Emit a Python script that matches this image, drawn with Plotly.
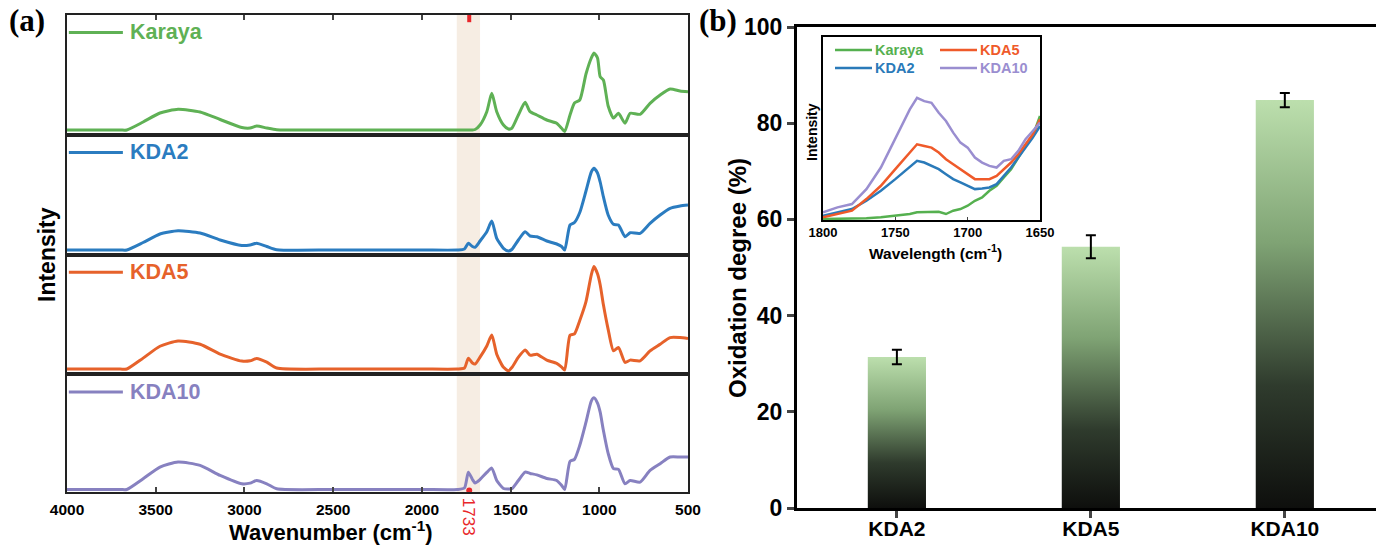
import plotly.graph_objects as go

# ---------------- (a) FTIR spectra ----------------
wavenumber = [4000, 3700, 3663, 3571, 3476, 3374, 3250, 3137, 3015, 2968, 2931, 2874, 2818, 2500, 2000,
              1800, 1760, 1738, 1715, 1700, 1672, 1634, 1606, 1578, 1540,
              1512, 1493, 1456, 1418, 1390, 1352, 1296, 1240, 1212, 1195,
              1165, 1140, 1110, 1075, 1045, 1030, 1010, 995, 977, 950,
              920, 892, 855, 826, 770, 714, 657, 601, 545, 500]

karaya = [0, 0, 0, 8, 17, 20.7, 18, 10.5, 2.5, 2.0, 4, 2.0, 0.3, 0, 0,
          0, 0, 0, 0, 0.5, 5, 18.3, 36.7, 18.3, 5,
          1, 1.7, 15, 27.7, 18.3, 15, 10, 6.7, 1.7, -1.5,
          15, 27, 30, 56, 72, 77, 72, 53.3, 50, 24,
          12, 16.7, 6.7, 16.7, 15.7, 26.7, 35, 41, 39, 38.3]

kda2 = [0, 0, 0, 7.5, 16, 19.3, 17, 10, 4.5, 5, 6.7, 3.5, 0.3, 0, 0,
        0, 1, 6.7, 3.5, 2.7, 9, 18.3, 29, 11.7, 1.7,
        -1, 0.5, 10, 18.3, 14, 13.3, 9, 6, 3.5, 0,
        25, 27.5, 37.5, 59, 78, 81.7, 77, 68, 53.3, 35,
        25.7, 25, 13.3, 17.3, 16.7, 26.7, 35, 41.7, 44, 45]

kda5 = [0, 0, 0, 11, 23, 28.3, 25, 15, 8, 8.3, 10.7, 7, 1, 0, 0,
        0, 1, 11, 6, 5, 12, 23.3, 34.3, 15, 1.7,
        -1.7, 1.5, 12, 19.3, 14, 15, 9, 5.7, 2, -1,
        34, 35.5, 49, 68, 95, 103.3, 96, 85, 65, 40,
        18.3, 21.7, 6.7, 9, 8.3, 18.3, 25, 31.7, 31.7, 30.7]

kda10 = [0, 0, 0, 10.7, 22.3, 27.3, 24, 14, 5.7, 6.3, 9, 5.7, 0.7, 0, 0,
         0, 1.5, 17.3, 10, 6.5, 10, 17, 21.3, 9, 1,
         0.5, 0.7, 9, 17.3, 16, 14.5, 11, 9, 4, 0,
         28, 30, 44, 67, 88, 91.3, 86, 77, 59, 36,
         20.7, 20, 5.7, 9, 7.3, 19, 25.7, 32.3, 32.3, 32.3]

series_names = ["Karaya", "KDA2", "KDA5", "KDA10"]
series_data = [karaya, kda2, kda5, kda10]
spec_colors = ["#5fb155", "#2b7cc0", "#e6622b", "#8781c0"]

x_ticks_a = [4000, 3500, 3000, 2500, 2000, 1500, 1000, 500]
carbonyl_peak = 1733
band_range = [1672, 1803]

# ---------------- (b) oxidation degree ----------------
samples = ["KDA2", "KDA5", "KDA10"]
oxidation = [31.4, 54.3, 84.8]
oxidation_err = [1.5, 2.4, 1.5]
y_ticks_b = [0, 20, 40, 60, 80, 100]

# ---------------- inset: carbonyl region ----------------
inset_wn = [1800, 1790, 1780, 1770, 1760, 1750, 1740, 1735, 1730, 1725, 1720, 1715, 1710,
            1705, 1700, 1695, 1690, 1685, 1680, 1675, 1670, 1665, 1660, 1655, 1650]
inset_karaya = [0, 0, 0, 0.2, 0.5, 1.0, 1.5, 2.0, 2.0, 2.1, 2.2, 1.5, 2.5,
                3.0, 4.0, 5.5, 6.5, 8.5, 10.0, 12.5, 15.0, 18.5, 22.0, 25.0, 31.0]
inset_kda2 = [1.0, 2.0, 3.0, 5.5, 8.5, 12.0, 15.5, 17.5, 17.0, 16.0, 15.0, 13.5, 12.0,
              11.0, 10.0, 9.0, 9.2, 9.5, 10.5, 13.0, 15.5, 18.5, 21.5, 24.5, 28.0]
inset_kda5 = [0.5, 1.5, 2.5, 6.0, 10.0, 15.0, 20.0, 22.5, 22.0, 21.5, 20.0, 18.0, 16.5,
              15.0, 13.5, 12.0, 12.0, 12.0, 13.0, 15.0, 17.0, 19.5, 22.5, 25.5, 30.0]
inset_kda10 = [2.0, 3.5, 4.5, 9.0, 15.5, 24.0, 33.0, 36.5, 35.5, 35.0, 32.0, 29.5, 26.0,
               23.0, 21.5, 18.5, 17.0, 16.0, 15.5, 17.5, 18.0, 20.5, 24.0, 26.5, 29.0]
inset_series = [inset_karaya, inset_kda2, inset_kda5, inset_kda10]
inset_colors = ["#55b04f", "#2a7ab9", "#ef5a2a", "#9a8ed0"]
inset_ticks = [1800, 1750, 1700, 1650]

FONT = "Arial, Liberation Sans, sans-serif"
SERIF = "Liberation Serif, Times New Roman, serif"
W, H = 1376, 546


def px_x(p):
    return p / W


def px_y(p):
    return 1 - p / H


def label(text, x, y, size, angle=0, color="black", bold=True, family=FONT):
    """Free text placed at pixel position (x, y), centred on that point."""
    return dict(text=text, xref="paper", yref="paper", x=px_x(x), y=px_y(y),
                xanchor="center", yanchor="middle", textangle=angle, showarrow=False,
                font=dict(size=size, color=color, family=family,
                          weight="bold" if bold else "normal"))


fig = go.Figure()

# panel (a) geometry (pixel rows of the four stacked frames)
a_left, a_right = px_x(67), px_x(688)
rows_px = [15, 135, 255, 374, 492]
y_ranges = [[-5, 115], [-5, 115], [-5, 115], [-2.5, 115]]

layout = dict(
    template="none",
    width=W, height=H, margin=dict(l=0, r=0, t=0, b=0, pad=0, autoexpand=False),
    paper_bgcolor="white", plot_bgcolor="rgba(0,0,0,0)",
    showlegend=False, font=dict(family=FONT, color="black"),
)

annotations = []
shapes = []

for i, (name, ys, col) in enumerate(zip(series_names, series_data, spec_colors)):
    k = i + 1
    xa = "x" if k == 1 else f"x{k}"
    ya = "y" if k == 1 else f"y{k}"
    fig.add_trace(go.Scatter(x=wavenumber, y=ys, mode="lines",
                             line=dict(color=col, width=3, shape="spline", smoothing=0.6),
                             xaxis=xa, yaxis=ya, hoverinfo="skip"))
    xkey = "xaxis" if k == 1 else f"xaxis{k}"
    ykey = "yaxis" if k == 1 else f"yaxis{k}"
    xax = dict(domain=[a_left, a_right], range=[4000, 500], anchor=ya, automargin=False,
               showline=True, mirror=True, linecolor="#222", linewidth=1.8,
               showgrid=False, zeroline=False, tickvals=x_ticks_a)
    if k == 1:
        xax.update(side="top", ticks="inside", ticklen=5, tickwidth=1.5,
                   showticklabels=False)
    elif k == 4:
        xax.update(ticks="inside", ticklen=5, tickwidth=1.5, showticklabels=True,
                   tickfont=dict(size=15.5, weight="bold", family=FONT),
                   ticklabelstandoff=2)
    else:
        xax.update(ticks="", showticklabels=False)
    layout[xkey] = xax
    layout[ykey] = dict(domain=[px_y(rows_px[k]), px_y(rows_px[i])], range=y_ranges[i],
                        anchor=xa, automargin=False, showline=True, mirror=True,
                        linecolor="#222", linewidth=1.8, showgrid=False, zeroline=False,
                        showticklabels=False, ticks="")
    # in-frame label: line sample + name
    label_y = 0.855 if k < 4 else 0.848
    shapes.append(dict(type="line", xref=f"{xa} domain", yref=f"{ya} domain",
                       x0=0.003, x1=0.09, y0=label_y, y1=label_y,
                       line=dict(color=col, width=3)))
    annotations.append(dict(text=name, xref=f"{xa} domain", yref=f"{ya} domain",
                            x=0.098, y=label_y, xanchor="left", yanchor="middle",
                            showarrow=False,
                            font=dict(size=21.5, color=col, family=FONT, weight="bold")))

# carbonyl band across all four frames
shapes.append(dict(type="rect", xref="x4", yref="paper",
                   x0=band_range[0], x1=band_range[1],
                   y0=px_y(rows_px[4]), y1=px_y(rows_px[0]),
                   fillcolor="rgba(236,214,192,0.45)", line=dict(width=0), layer="below"))
shapes.append(dict(type="line", xref="x", yref="y domain", x0=carbonyl_peak, x1=carbonyl_peak,
                   y0=0.94, y1=1.0, line=dict(color="#e8262a", width=4)))
fig.add_trace(go.Scatter(x=[carbonyl_peak], y=[-1], mode="markers",
                         marker=dict(color="#e8262a", size=6), cliponaxis=False,
                         xaxis="x4", yaxis="y4", hoverinfo="skip"))
annotations.append(dict(text="1733", xref="x4", yref="paper", x=carbonyl_peak,
                        y=px_y(517), xanchor="center", yanchor="middle", textangle=90,
                        showarrow=False,
                        font=dict(size=17, color="#e8262a", family=FONT)))

annotations.append(label("Wavenumber (cm<sup>-1</sup>)", 331, 531, 22))
annotations.append(label("Intensity", 47, 255, 23, angle=-90))
annotations.append(label("(a)", 27, 21, 31, family=SERIF))
annotations.append(label("(b)", 718, 21, 31, family=SERIF))

# ---------------- panel (b) bars ----------------
bar_half = 0.15
bar_scale = [[0.0, "#0e0f0d"], [0.3, "#2f3b2d"], [0.65, "#7fa374"], [1.0, "#bcdfad"]]
for i, v in enumerate(oxidation):
    fig.add_trace(go.Scatter(x=[i - bar_half, i + bar_half, i + bar_half, i - bar_half, i - bar_half],
                             y=[0, 0, v, v, 0], mode="lines", fill="toself",
                             line=dict(width=0, color="rgba(0,0,0,0)"),
                             fillgradient=dict(type="vertical", colorscale=bar_scale),
                             xaxis="x5", yaxis="y5", hoverinfo="skip"))
fig.add_trace(go.Scatter(x=list(range(len(samples))), y=oxidation, mode="markers",
                         marker=dict(size=1, opacity=0),
                         error_y=dict(type="data", array=oxidation_err, color="black",
                                      thickness=2, width=5),
                         xaxis="x5", yaxis="y5", hoverinfo="skip"))

b_left = px_x(797)
layout["xaxis5"] = dict(domain=[b_left, 1.0], range=[-0.515, 2.47], anchor="y5",
                        automargin=False, tickvals=list(range(len(samples))), ticktext=samples,
                        showline=True, mirror=True, linecolor="black", linewidth=3,
                        ticks="outside", ticklen=7, tickwidth=2.5, showgrid=False,
                        zeroline=False, ticklabelstandoff=-7,
                        tickfont=dict(size=21, family=FONT, weight="bold"))
layout["yaxis5"] = dict(domain=[px_y(508), px_y(27)], range=[0, 100], anchor="x5",
                        automargin=False, tickvals=y_ticks_b, showline=True, linecolor="black",
                        linewidth=3, ticks="outside", ticklen=7, tickwidth=2.5, showgrid=False,
                        zeroline=False, ticklabelstandoff=0,
                        tickfont=dict(size=23, family=FONT, weight="bold"))
annotations.append(label("Oxidation degree (%)", 737, 278, 24, angle=-90))

# ---------------- inset ----------------
for ys, col in zip(inset_series, inset_colors):
    fig.add_trace(go.Scatter(x=inset_wn, y=ys, mode="lines",
                             line=dict(color=col, width=2.5),
                             xaxis="x6", yaxis="y6", hoverinfo="skip"))
layout["xaxis6"] = dict(domain=[px_x(823), px_x(1040)], range=[1800, 1650], anchor="y6",
                        automargin=False, tickvals=inset_ticks, showline=True, mirror=True,
                        linecolor="black", linewidth=1.5, ticks="inside", ticklen=3,
                        showgrid=False, zeroline=False,
                        tickfont=dict(size=13, family=FONT, weight="bold"))
layout["yaxis6"] = dict(domain=[px_y(220), px_y(37)], range=[-0.3, 54.8], anchor="x6",
                        automargin=False, showline=True, mirror=True, linecolor="black",
                        linewidth=1.5, showticklabels=False, ticks="", showgrid=False,
                        zeroline=False)
annotations.append(label("Wavelength (cm<sup>-1</sup>)", 935, 252, 15.5))
annotations.append(label("Intensity", 812, 132, 14, angle=-90))

# inset legend, two columns
legend_cells = [("Karaya", inset_colors[0], 835, 50), ("KDA5", inset_colors[2], 940, 50),
                ("KDA2", inset_colors[1], 835, 68), ("KDA10", inset_colors[3], 940, 68)]
for name, col, lx, ly in legend_cells:
    shapes.append(dict(type="line", xref="paper", yref="paper", x0=px_x(lx), x1=px_x(lx + 37),
                       y0=px_y(ly), y1=px_y(ly), line=dict(color=col, width=2.5)))
    annotations.append(dict(text=name, xref="paper", yref="paper", x=px_x(lx + 38),
                            y=px_y(ly), xanchor="left", yanchor="middle", showarrow=False,
                            font=dict(size=14.5, color=col, family=FONT, weight="bold")))

layout["annotations"] = annotations
layout["shapes"] = shapes
fig.update_layout(**layout)
fig.write_html("out.html")
